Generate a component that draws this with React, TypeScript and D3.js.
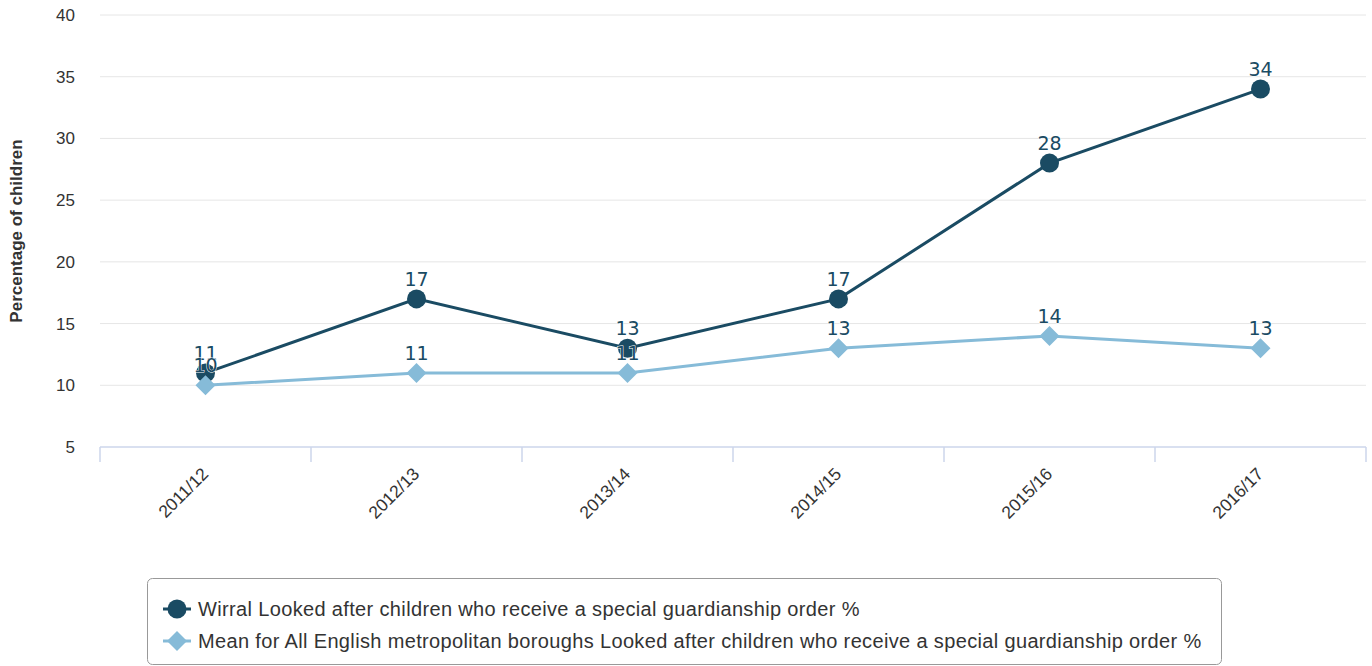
import React from "react";
import * as d3 from "d3";

const categories = ["2011/12", "2012/13", "2013/14", "2014/15", "2015/16", "2016/17"];
const wirral = [11, 17, 13, 17, 28, 34];
const meanMet = [10, 11, 11, 13, 14, 13];
const yTicks = [5, 10, 15, 20, 25, 30, 35, 40];
const seriesNames = [
  "Wirral Looked after children who receive a special guardianship order %",
  "Mean for All English metropolitan boroughs Looked after children who receive a special guardianship order %",
];

const W = 1372;
const H = 666;
const plotLeft = 100;
const plotRight = 1366;
const plotTop = 15;
const plotBottom = 447;

const DARK = "#1a4b63";
const LIGHT = "#86bbd8";
const FONT = "'Liberation Sans', Arial, sans-serif";
const LABEL_FONT = "'DejaVu Sans', sans-serif";

export default function App() {
  const x = d3.scaleBand<string>().domain(categories).range([plotLeft, plotRight]).padding(0);
  const y = d3.scaleLinear().domain([5, 40]).range([plotBottom, plotTop]);
  const cx = (c: string) => (x(c) as number) + x.bandwidth() / 2;

  const line = d3
    .line<number>()
    .x((_, i) => cx(categories[i]))
    .y((d) => y(d));

  const diamond = (px: number, py: number, r: number) =>
    `M${px},${py - r}L${px + r},${py}L${px},${py + r}L${px - r},${py}Z`;

  const tickXs = categories.map((c) => x(c) as number).concat([plotRight]);

  const labels: { x: number; y: number; v: number }[] = [];
  wirral.forEach((v, i) => labels.push({ x: cx(categories[i]), y: y(v), v }));
  meanMet.forEach((v, i) => labels.push({ x: cx(categories[i]), y: y(v), v }));

  return (
    <svg
      width={W}
      height={H}
      style={{ position: "absolute", left: 0, top: 0, background: "#fff" }}
      fontFamily={FONT}
    >
      <rect x={0} y={0} width={W} height={H} fill="#fff" />
      {/* gridlines */}
      {yTicks.slice(1).map((t) => (
        <line key={t} x1={plotLeft} x2={plotRight} y1={y(t)} y2={y(t)} stroke="#e6e6e6" strokeWidth={1} />
      ))}
      {/* y tick labels */}
      {yTicks.map((t) => (
        <text key={t} x={75} y={y(t) + 6} textAnchor="end" fontSize={17} fill="#333">
          {t}
        </text>
      ))}
      {/* y axis title */}
      <text
        transform={`translate(22,${(plotTop + plotBottom) / 2}) rotate(-90)`}
        textAnchor="middle"
        fontSize={17}
        fontWeight="bold"
        fill="#333"
      >
        Percentage of children
      </text>
      {/* x axis */}
      <line x1={plotLeft} x2={plotRight} y1={plotBottom} y2={plotBottom} stroke="#ccd6eb" strokeWidth={1.5} />
      {tickXs.map((tx, i) => (
        <line key={i} x1={tx} x2={tx} y1={plotBottom} y2={plotBottom + 15} stroke="#ccd6eb" strokeWidth={1.5} />
      ))}
      {categories.map((c) => (
        <text
          key={c}
          transform={`translate(${cx(c) + 4},${plotBottom + 28}) rotate(-45)`}
          textAnchor="end"
          fontSize={17.5}
          fill="#333"
        >
          {c}
        </text>
      ))}
      {/* series 1 */}
      <path d={line(wirral) || ""} fill="none" stroke={DARK} strokeWidth={3} />
      {wirral.map((v, i) => (
        <circle key={i} cx={cx(categories[i])} cy={y(v)} r={9.5} fill={DARK} />
      ))}
      {/* series 2 */}
      <path d={line(meanMet) || ""} fill="none" stroke={LIGHT} strokeWidth={3} />
      {meanMet.map((v, i) => (
        <path key={i} d={diamond(cx(categories[i]), y(v), 10)} fill={LIGHT} />
      ))}
      {/* data labels */}
      {labels.map((l, i) => (
        <text
          key={i}
          x={l.x}
          y={l.y - 13}
          textAnchor="middle"
          fontSize={19}
          fontFamily={LABEL_FONT}
          fill={DARK}
          stroke="#fff"
          strokeWidth={1}
          paintOrder="stroke"
        >
          {l.v}
        </text>
      ))}
      {/* legend */}
      <rect x={147.5} y={578.5} width={1074} height={86} rx={5} ry={5} fill="#fff" stroke="#999" strokeWidth={1} />
      {seriesNames.map((name, i) => {
        const ly = 609 + i * 32;
        return (
          <g key={name}>
            <line x1={163} x2={191} y1={ly} y2={ly} stroke={i === 0 ? DARK : LIGHT} strokeWidth={3} />
            {i === 0 ? (
              <circle cx={177} cy={ly} r={9.5} fill={DARK} />
            ) : (
              <path d={diamond(177, ly, 10)} fill={LIGHT} />
            )}
            <text x={198} y={ly + 7} fontSize={20} letterSpacing={0.35} fill="#333">
              {name}
            </text>
          </g>
        );
      })}
    </svg>
  );
}
